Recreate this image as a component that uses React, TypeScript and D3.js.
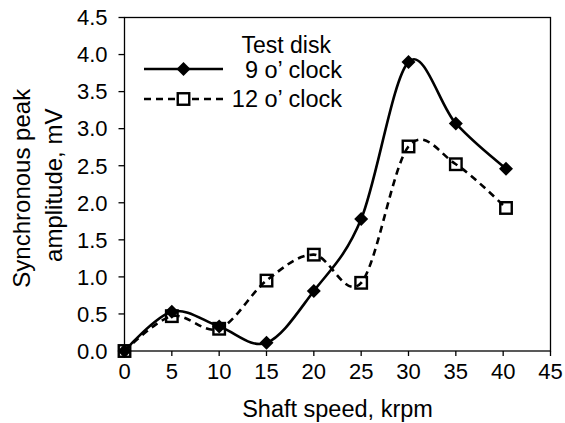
import React from "react";
import * as d3 from "d3";

const speeds9 = [0, 5, 10, 15, 20, 25, 30, 35, 40.3];
const amp9 = [0, 0.53, 0.33, 0.11, 0.81, 1.78, 3.9, 3.07, 2.46];
const speeds12 = [0, 5, 10, 15, 20, 25, 30, 35, 40.3];
const amp12 = [0, 0.47, 0.3, 0.95, 1.3, 0.92, 2.76, 2.52, 1.93];
const xTicks = [0, 5, 10, 15, 20, 25, 30, 35, 40, 45];
const yTicks = [0, 0.5, 1, 1.5, 2, 2.5, 3, 3.5, 4, 4.5];
const legendTitle = "Test disk";
const seriesNames = ["9 o\u2019 clock", "12 o\u2019 clock"];
const xTitle = "Shaft speed, krpm";
const yTitle = ["Synchronous peak", "amplitude, mV"];

const W = 565;
const H = 423;
const FONT = "'Liberation Sans', Arial, Helvetica, sans-serif";

export default function App() {
  const x = d3.scaleLinear().domain([0, 45]).range([124.5, 550.5]);
  const y = d3.scaleLinear().domain([0, 4.5]).range([351, 17.5]);
  const line = d3
    .line<[number, number]>()
    .x((d) => x(d[0]))
    .y((d) => y(d[1]))
    .curve(d3.curveCardinal.tension(0));
  const d9 = speeds9.map((s, i) => [s, amp9[i]] as [number, number]);
  const d12 = speeds12.map((s, i) => [s, amp12[i]] as [number, number]);
  const diamond = (cx: number, cy: number, r = 7) =>
    `M${cx},${cy - r}L${cx + r},${cy}L${cx},${cy + r}L${cx - r},${cy}Z`;
  const sq = 11.5;
  const sw = 2.6;

  return (
    <svg
      width={W}
      height={H}
      style={{ position: "absolute", left: 0, top: 0, background: "#fff" }}
      fontFamily={FONT}
    >
      <rect x={0} y={0} width={W} height={H} fill="#fff" />
      {/* frame */}
      <rect
        x={x(0)}
        y={y(4.5)}
        width={x(45) - x(0)}
        height={y(0) - y(4.5)}
        fill="none"
        stroke="#000"
        strokeWidth={1.3}
      />
      {/* y ticks */}
      {yTicks.map((t) => (
        <g key={"y" + t}>
          <line x1={x(0) - 6} x2={x(0)} y1={y(t)} y2={y(t)} stroke="#000" strokeWidth={1.3} />
          <text x={107.5} y={y(t) + 7.8} textAnchor="end" fontSize={22} fill="#000">
            {t.toFixed(1)}
          </text>
        </g>
      ))}
      {/* x ticks */}
      {xTicks.map((t) => (
        <g key={"x" + t}>
          <line x1={x(t)} x2={x(t)} y1={y(0)} y2={y(0) + 5} stroke="#000" strokeWidth={1.3} />
          <text x={x(t)} y={378.5} textAnchor="middle" fontSize={22} fill="#000">
            {t}
          </text>
        </g>
      ))}
      {/* axis titles */}
      <text x={(x(0) + x(45)) / 2} y={416.5} textAnchor="middle" fontSize={23.5} fill="#000">
        {xTitle}
      </text>
      <text transform={`translate(29.5,${(y(0) + y(4.5)) / 2 + 4}) rotate(-90)`} textAnchor="middle" fontSize={24} fill="#000">
        {yTitle[0]}
      </text>
      <text transform={`translate(61.5,${(y(0) + y(4.5)) / 2 + 1}) rotate(-90)`} textAnchor="middle" fontSize={24} fill="#000">
        {yTitle[1]}
      </text>

      {/* series 12 o'clock */}
      <path d={line(d12) || ""} fill="none" stroke="#000" strokeWidth={sw} strokeDasharray="7,5" />
      {d12.map((p, i) => (
        <rect
          key={"s" + i}
          x={x(p[0]) - sq / 2}
          y={y(p[1]) - sq / 2}
          width={sq}
          height={sq}
          fill="none"
          stroke="#000"
          strokeWidth={2.4}
        />
      ))}
      {/* series 9 o'clock */}
      <path d={line(d9) || ""} fill="none" stroke="#000" strokeWidth={sw} />
      {d9.map((p, i) => (
        <path key={"d" + i} d={diamond(x(p[0]), y(p[1]))} fill="#000" />
      ))}

      {/* legend */}
      <text x={241.5} y={52.5} fontSize={23} fill="#000">
        {legendTitle}
      </text>
      <line x1={144} x2={223} y1={69} y2={69} stroke="#000" strokeWidth={sw} />
      <path d={diamond(183.5, 69)} fill="#000" />
      <text x={342} y={78.3} textAnchor="end" fontSize={23.5} fill="#000">
        {seriesNames[0]}
      </text>
      <line x1={144} x2={225} y1={99} y2={99} stroke="#000" strokeWidth={sw} strokeDasharray="7,5" />
      <rect x={183.5 - sq / 2} y={99 - sq / 2} width={sq} height={sq} fill="#fff" stroke="#000" strokeWidth={2.4} />
      <text x={342} y={106.7} textAnchor="end" fontSize={23.5} fill="#000">
        {seriesNames[1]}
      </text>
    </svg>
  );
}
